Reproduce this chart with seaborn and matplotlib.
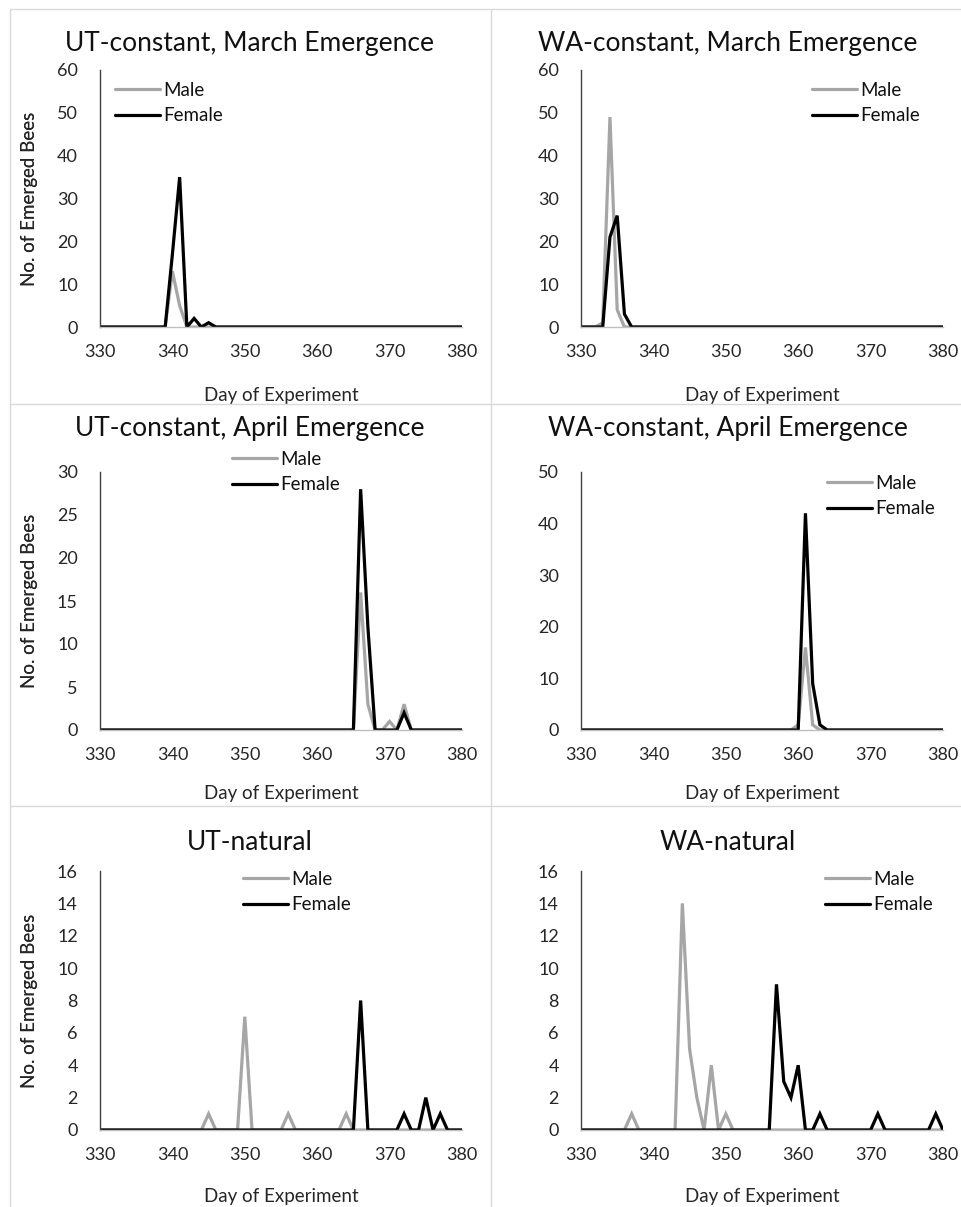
import matplotlib
matplotlib.use("Agg")
import matplotlib.pyplot as plt
from matplotlib.lines import Line2D
import numpy as np
import pandas as pd
import seaborn as sns

sns.set_theme(style="white")
plt.rcParams['font.family'] = ['Lato', 'DejaVu Sans']

# ---------------- data (day of experiment -> number of emerged bees; other days 0)
day_start, day_end = 330, 380

ut_march_male_days = [340, 341]
ut_march_male_counts = [13, 5]
ut_march_female_days = [340, 341, 343, 345]
ut_march_female_counts = [17, 35, 2, 1]

wa_march_male_days = [333, 334, 335]
wa_march_male_counts = [1, 49, 4]
wa_march_female_days = [334, 335, 336]
wa_march_female_counts = [21, 26, 3]

ut_april_male_days = [366, 367, 370, 372]
ut_april_male_counts = [16, 3, 1, 3]
ut_april_female_days = [366, 367, 372]
ut_april_female_counts = [28, 12, 2]

wa_april_male_days = [360, 361, 362]
wa_april_male_counts = [1, 16, 1]
wa_april_female_days = [361, 362, 363]
wa_april_female_counts = [42, 9, 1]

ut_natural_male_days = [345, 350, 356, 364]
ut_natural_male_counts = [1, 7, 1, 1]
ut_natural_female_days = [366, 372, 375, 377]
ut_natural_female_counts = [8, 1, 2, 1]

wa_natural_male_days = [337, 344, 345, 346, 348, 350]
wa_natural_male_counts = [1, 14, 5, 2, 4, 1]
wa_natural_female_days = [357, 358, 359, 360, 363, 371, 379]
wa_natural_female_counts = [9, 3, 2, 4, 1, 1, 1]

titles = ["UT-constant, March Emergence", "WA-constant, March Emergence",
          "UT-constant, April Emergence", "WA-constant, April Emergence",
          "UT-natural", "WA-natural"]
y_max = [60, 60, 30, 50, 16, 16]
y_step = [10, 10, 5, 10, 2, 2]
x_ticks = [330, 340, 350, 360, 370, 380]
series_labels = ["Male", "Female"]

panels = [
    (ut_march_male_days, ut_march_male_counts, ut_march_female_days, ut_march_female_counts),
    (wa_march_male_days, wa_march_male_counts, wa_march_female_days, wa_march_female_counts),
    (ut_april_male_days, ut_april_male_counts, ut_april_female_days, ut_april_female_counts),
    (wa_april_male_days, wa_april_male_counts, wa_april_female_days, wa_april_female_counts),
    (ut_natural_male_days, ut_natural_male_counts, ut_natural_female_days, ut_natural_female_counts),
    (wa_natural_male_days, wa_natural_male_counts, wa_natural_female_days, wa_natural_female_counts),
]

def full_series(days, counts):
    s = pd.Series(0, index=np.arange(day_start, day_end + 1))
    s.loc[days] = counts
    return pd.DataFrame({"day": s.index, "count": s.values})

# ---------------- layout (pixels)
W, H = 962, 1207
fig = plt.figure(figsize=(W / 100, H / 100), dpi=100)

col_x = [(100, 462), (581, 943)]
row_y = [(70, 327), (472, 730), (871, 1130)]
title_y = [43, 428, 842]
title_x = [250, 728]
xlabel_dy = [60, 55, 58]
legend_pos = [(115, 93), (812, 93), (232, 462), (827, 486), (243, 882), (825, 882)]

MALE_C = "#a6a6a6"
FEMALE_C = "#000000"
TXT = "#262626"

for i, (md, mc, fd, fc) in enumerate(panels):
    r, c = divmod(i, 2)
    x0, x1 = col_x[c]
    yt, yb = row_y[r]
    ax = fig.add_axes([x0 / W, 1 - yb / H, (x1 - x0) / W, (yb - yt) / H])
    male = full_series(md, mc)
    female = full_series(fd, fc)
    sns.lineplot(data=male, x="day", y="count", ax=ax, color=MALE_C, lw=2.3,
                 label=series_labels[0], solid_joinstyle="miter")
    sns.lineplot(data=female, x="day", y="count", ax=ax, color=FEMALE_C, lw=2.3,
                 label=series_labels[1], solid_joinstyle="miter")
    ax.set_xlim(day_start, day_end)
    ax.set_ylim(0, y_max[i])
    ax.set_xticks(x_ticks)
    ax.set_yticks(np.arange(0, y_max[i] + 1, y_step[i]))
    ax.tick_params(axis="both", length=0, labelsize=13, labelcolor=TXT)
    ax.tick_params(axis="y", pad=16)
    ax.tick_params(axis="x", pad=12)
    for s in ["top", "right"]:
        ax.spines[s].set_visible(False)
    ax.spines["left"].set_color("#404040")
    ax.spines["left"].set_linewidth(1.0)
    ax.spines["bottom"].set_color("#bfbfbf")
    ax.spines["bottom"].set_linewidth(1.0)
    ax.set_xlabel("Day of Experiment", fontsize=13.5, color=TXT)
    ax.set_ylabel("No. of Emerged Bees", fontsize=13.5, color=TXT)
    ax.xaxis.set_label_coords(0.5, -xlabel_dy[r] / (yb - yt))
    ax.yaxis.set_label_coords((38 - x0) / (x1 - x0), 0.5)
    ax.patch.set_alpha(0)

    fig.text(title_x[c] / W, 1 - title_y[r] / H, titles[i], ha="center", va="center",
             fontsize=19, color="#111111")

    lx, ly = legend_pos[i]
    leg = ax.legend(loc="upper left",
                    bbox_to_anchor=((lx - x0) / (x1 - x0), (yb - (ly - 11)) / (yb - yt)),
                    frameon=False, fontsize=13.5, handlelength=2.4, handletextpad=0.15,
                    borderpad=0, borderaxespad=0, labelspacing=0.45)
    for t in leg.get_texts():
        t.set_color("#111111")

# cell borders
bc = "#d9d9d9"
fig.add_artist(Line2D([10 / W, 1], [1 - 9 / H, 1 - 9 / H], color=bc, lw=1))
fig.add_artist(Line2D([10 / W, 10 / W], [0, 1 - 9 / H], color=bc, lw=1))
fig.add_artist(Line2D([491 / W, 491 / W], [0, 1 - 9 / H], color=bc, lw=1))
for yy in (404, 806):
    fig.add_artist(Line2D([10 / W, 1], [1 - yy / H, 1 - yy / H], color=bc, lw=1))

fig.savefig("out.png", dpi=100, facecolor="white")
